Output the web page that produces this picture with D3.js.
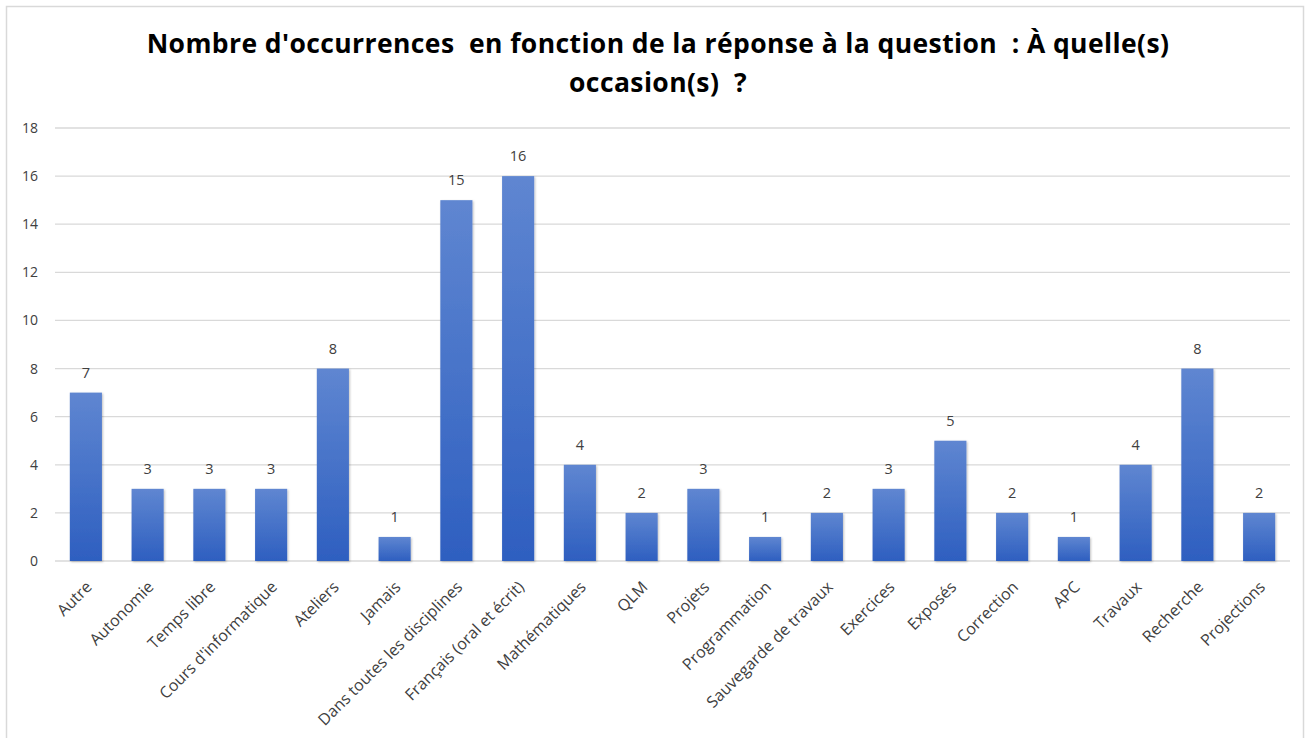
<!DOCTYPE html>
<html><head><meta charset="utf-8">
<script src="https://cdn.jsdelivr.net/npm/d3@7"></script>
<style>body{margin:0;background:#fff;}svg{display:block;}</style>
</head><body>
<svg id="c" width="1313" height="738"></svg>
<script>
const categories = ["Autre","Autonomie","Temps libre","Cours d'informatique","Ateliers","Jamais","Dans toutes les disciplines","Français (oral et écrit)","Mathématiques","QLM","Projets","Programmation","Sauvegarde de travaux","Exercices","Exposés","Correction","APC","Travaux","Recherche","Projections"];
const values = [7,3,3,3,8,1,15,16,4,2,3,1,2,3,5,2,1,4,8,2];
const yTicks = [0,2,4,6,8,10,12,14,16,18];
const titleLines = ["Nombre d'occurrences  en fonction de la réponse à la question  : À quelle(s)", "occasion(s)  ?"];

const svg = d3.select("#c");
const font = "'Open Sans', sans-serif";
const M = {left:55, right:1290, top:128, bottom:561};

svg.append("rect").attr("x",6.5).attr("y",6.5).attr("width",1297).attr("height",760)
  .attr("fill","#fff").attr("stroke","#d9d9d9").attr("stroke-width",1.5);

const defs = svg.append("defs");
const g = defs.append("linearGradient").attr("id","bg").attr("x1",0).attr("y1",0).attr("x2",0).attr("y2",1);
g.append("stop").attr("offset","0%").attr("stop-color","#5f86d1");
g.append("stop").attr("offset","100%").attr("stop-color","#2e5fc0");
const f = defs.append("filter").attr("id","sh").attr("x","-20%").attr("y","-20%").attr("width","150%").attr("height","150%");
f.append("feDropShadow").attr("dx",1).attr("dy",1).attr("stdDeviation",1).attr("flood-color","#000").attr("flood-opacity",0.25);

const x = d3.scaleBand().domain(categories).range([M.left, M.right]).paddingInner(0.48).paddingOuter(0.24);
const y = d3.scaleLinear().domain([0,18]).range([M.bottom, M.top]);

svg.append("g").selectAll("line").data(yTicks).join("line")
  .attr("x1",M.left).attr("x2",M.right)
  .attr("y1",d=>y(d)).attr("y2",d=>y(d))
  .attr("stroke","#d9d9d9").attr("stroke-width",1.3);

const yAxis = d3.axisLeft(y).tickValues(yTicks).tickSize(0).tickPadding(17);
const ya = svg.append("g").attr("transform",`translate(${M.left},0)`).call(yAxis);
ya.select(".domain").remove();
ya.selectAll("text").attr("font-family",font).attr("font-size",14).attr("fill","#404040");

svg.append("g").selectAll("rect").data(values).join("rect")
  .attr("x",(d,i)=>x(categories[i]))
  .attr("y",d=>y(d))
  .attr("width",x.bandwidth())
  .attr("height",d=>y(0)-y(d))
  .attr("fill","url(#bg)")
  .attr("filter","url(#sh)");

svg.append("g").selectAll("text").data(values).join("text")
  .attr("x",(d,i)=>x(categories[i])+x.bandwidth()/2)
  .attr("y",d=>y(d)-15)
  .attr("text-anchor","middle")
  .attr("font-family",font).attr("font-size",14.5).attr("fill","#404040")
  .text(d=>d);

const xAxis = d3.axisBottom(x).tickSize(0).tickPadding(0);
const xa = svg.append("g").attr("transform",`translate(0,${M.bottom})`).call(xAxis);
xa.select(".domain").remove();
xa.selectAll("text")
  .attr("font-family",font).attr("font-size",16).attr("fill","#404040")
  .attr("text-anchor","end")
  .attr("dy",0)
  .attr("transform","translate(7,27) rotate(-45)");

svg.append("text").attr("x",658).attr("y",53).attr("text-anchor","middle")
  .attr("font-family",font).attr("font-weight","bold").attr("font-size",26.5)
  .attr("letter-spacing",0.4).attr("fill","#000")
  .selectAll("tspan").data(titleLines).join("tspan")
  .attr("x",658).attr("dy",(d,i)=>i?39:0).style("white-space","pre").text(d=>d);
</script>
</body></html>
